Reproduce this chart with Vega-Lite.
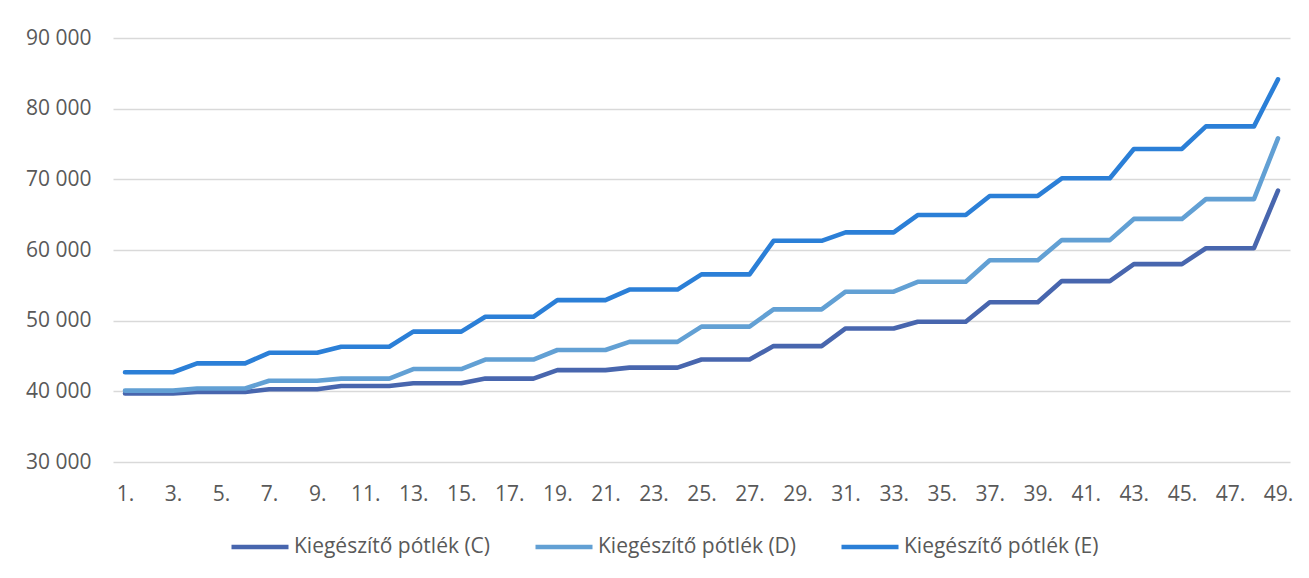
{
  "$schema": "https://vega.github.io/schema/vega-lite/v6.json",
  "width": 1177,
  "height": 424,
  "autosize": "none",
  "padding": {"left": 113, "top": 38, "right": 19, "bottom": 116},
  "background": "white",
  "config": {
    "view": {"stroke": null},
    "font": "Open Sans",
    "axis": {"labelFont": "Open Sans", "labelFontSize": 21, "labelColor": "#595959", "domain": false, "ticks": false},
    "legend": {"labelFont": "Open Sans", "labelFontSize": 21, "labelColor": "#595959", "labelLimit": 0}
  },
  "data": {
    "values": [
      {"i":1,"Kiegészítő pótlék (C)":39700,"Kiegészítő pótlék (D)":40100,"Kiegészítő pótlék (E)":42700},
      {"i":2,"Kiegészítő pótlék (C)":39700,"Kiegészítő pótlék (D)":40100,"Kiegészítő pótlék (E)":42700},
      {"i":3,"Kiegészítő pótlék (C)":39700,"Kiegészítő pótlék (D)":40100,"Kiegészítő pótlék (E)":42700},
      {"i":4,"Kiegészítő pótlék (C)":39900,"Kiegészítő pótlék (D)":40400,"Kiegészítő pótlék (E)":43950},
      {"i":5,"Kiegészítő pótlék (C)":39900,"Kiegészítő pótlék (D)":40400,"Kiegészítő pótlék (E)":43950},
      {"i":6,"Kiegészítő pótlék (C)":39900,"Kiegészítő pótlék (D)":40400,"Kiegészítő pótlék (E)":43950},
      {"i":7,"Kiegészítő pótlék (C)":40300,"Kiegészítő pótlék (D)":41500,"Kiegészítő pótlék (E)":45450},
      {"i":8,"Kiegészítő pótlék (C)":40300,"Kiegészítő pótlék (D)":41500,"Kiegészítő pótlék (E)":45450},
      {"i":9,"Kiegészítő pótlék (C)":40300,"Kiegészítő pótlék (D)":41500,"Kiegészítő pótlék (E)":45450},
      {"i":10,"Kiegészítő pótlék (C)":40750,"Kiegészítő pótlék (D)":41800,"Kiegészítő pótlék (E)":46300},
      {"i":11,"Kiegészítő pótlék (C)":40750,"Kiegészítő pótlék (D)":41800,"Kiegészítő pótlék (E)":46300},
      {"i":12,"Kiegészítő pótlék (C)":40750,"Kiegészítő pótlék (D)":41800,"Kiegészítő pótlék (E)":46300},
      {"i":13,"Kiegészítő pótlék (C)":41150,"Kiegészítő pótlék (D)":43150,"Kiegészítő pótlék (E)":48450},
      {"i":14,"Kiegészítő pótlék (C)":41150,"Kiegészítő pótlék (D)":43150,"Kiegészítő pótlék (E)":48450},
      {"i":15,"Kiegészítő pótlék (C)":41150,"Kiegészítő pótlék (D)":43150,"Kiegészítő pótlék (E)":48450},
      {"i":16,"Kiegészítő pótlék (C)":41800,"Kiegészítő pótlék (D)":44500,"Kiegészítő pótlék (E)":50550},
      {"i":17,"Kiegészítő pótlék (C)":41800,"Kiegészítő pótlék (D)":44500,"Kiegészítő pótlék (E)":50550},
      {"i":18,"Kiegészítő pótlék (C)":41800,"Kiegészítő pótlék (D)":44500,"Kiegészítő pótlék (E)":50550},
      {"i":19,"Kiegészítő pótlék (C)":43000,"Kiegészítő pótlék (D)":45850,"Kiegészítő pótlék (E)":52900},
      {"i":20,"Kiegészítő pótlék (C)":43000,"Kiegészítő pótlék (D)":45850,"Kiegészítő pótlék (E)":52900},
      {"i":21,"Kiegészítő pótlék (C)":43000,"Kiegészítő pótlék (D)":45850,"Kiegészítő pótlék (E)":52900},
      {"i":22,"Kiegészítő pótlék (C)":43350,"Kiegészítő pótlék (D)":47000,"Kiegészítő pótlék (E)":54400},
      {"i":23,"Kiegészítő pótlék (C)":43350,"Kiegészítő pótlék (D)":47000,"Kiegészítő pótlék (E)":54400},
      {"i":24,"Kiegészítő pótlék (C)":43350,"Kiegészítő pótlék (D)":47000,"Kiegészítő pótlék (E)":54400},
      {"i":25,"Kiegészítő pótlék (C)":44500,"Kiegészítő pótlék (D)":49150,"Kiegészítő pótlék (E)":56550},
      {"i":26,"Kiegészítő pótlék (C)":44500,"Kiegészítő pótlék (D)":49150,"Kiegészítő pótlék (E)":56550},
      {"i":27,"Kiegészítő pótlék (C)":44500,"Kiegészítő pótlék (D)":49150,"Kiegészítő pótlék (E)":56550},
      {"i":28,"Kiegészítő pótlék (C)":46400,"Kiegészítő pótlék (D)":51600,"Kiegészítő pótlék (E)":61300},
      {"i":29,"Kiegészítő pótlék (C)":46400,"Kiegészítő pótlék (D)":51600,"Kiegészítő pótlék (E)":61300},
      {"i":30,"Kiegészítő pótlék (C)":46400,"Kiegészítő pótlék (D)":51600,"Kiegészítő pótlék (E)":61300},
      {"i":31,"Kiegészítő pótlék (C)":48900,"Kiegészítő pótlék (D)":54100,"Kiegészítő pótlék (E)":62500},
      {"i":32,"Kiegészítő pótlék (C)":48900,"Kiegészítő pótlék (D)":54100,"Kiegészítő pótlék (E)":62500},
      {"i":33,"Kiegészítő pótlék (C)":48900,"Kiegészítő pótlék (D)":54100,"Kiegészítő pótlék (E)":62500},
      {"i":34,"Kiegészítő pótlék (C)":49850,"Kiegészítő pótlék (D)":55500,"Kiegészítő pótlék (E)":64950},
      {"i":35,"Kiegészítő pótlék (C)":49850,"Kiegészítő pótlék (D)":55500,"Kiegészítő pótlék (E)":64950},
      {"i":36,"Kiegészítő pótlék (C)":49850,"Kiegészítő pótlék (D)":55500,"Kiegészítő pótlék (E)":64950},
      {"i":37,"Kiegészítő pótlék (C)":52600,"Kiegészítő pótlék (D)":58550,"Kiegészítő pótlék (E)":67650},
      {"i":38,"Kiegészítő pótlék (C)":52600,"Kiegészítő pótlék (D)":58550,"Kiegészítő pótlék (E)":67650},
      {"i":39,"Kiegészítő pótlék (C)":52600,"Kiegészítő pótlék (D)":58550,"Kiegészítő pótlék (E)":67650},
      {"i":40,"Kiegészítő pótlék (C)":55600,"Kiegészítő pótlék (D)":61400,"Kiegészítő pótlék (E)":70150},
      {"i":41,"Kiegészítő pótlék (C)":55600,"Kiegészítő pótlék (D)":61400,"Kiegészítő pótlék (E)":70150},
      {"i":42,"Kiegészítő pótlék (C)":55600,"Kiegészítő pótlék (D)":61400,"Kiegészítő pótlék (E)":70150},
      {"i":43,"Kiegészítő pótlék (C)":58000,"Kiegészítő pótlék (D)":64400,"Kiegészítő pótlék (E)":74300},
      {"i":44,"Kiegészítő pótlék (C)":58000,"Kiegészítő pótlék (D)":64400,"Kiegészítő pótlék (E)":74300},
      {"i":45,"Kiegészítő pótlék (C)":58000,"Kiegészítő pótlék (D)":64400,"Kiegészítő pótlék (E)":74300},
      {"i":46,"Kiegészítő pótlék (C)":60250,"Kiegészítő pótlék (D)":67200,"Kiegészítő pótlék (E)":77500},
      {"i":47,"Kiegészítő pótlék (C)":60250,"Kiegészítő pótlék (D)":67200,"Kiegészítő pótlék (E)":77500},
      {"i":48,"Kiegészítő pótlék (C)":60250,"Kiegészítő pótlék (D)":67200,"Kiegészítő pótlék (E)":77500},
      {"i":49,"Kiegészítő pótlék (C)":68400,"Kiegészítő pótlék (D)":75800,"Kiegészítő pótlék (E)":84150}
    ]
  },
  "transform": [
    {"fold": ["Kiegészítő pótlék (C)", "Kiegészítő pótlék (D)", "Kiegészítő pótlék (E)"], "as": ["series", "value"]}
  ],
  "mark": {"type": "line", "strokeWidth": 4.6, "strokeCap": "round", "strokeJoin": "round"},
  "encoding": {
    "x": {
      "field": "i",
      "type": "ordinal",
      "title": null,
      "axis": {
        "labelAngle": 0,
        "labelPadding": 21,
        "values": [1,3,5,7,9,11,13,15,17,19,21,23,25,27,29,31,33,35,37,39,41,43,45,47,49],
        "labelExpr": "datum.value + '.'",
        "grid": false
      }
    },
    "y": {
      "field": "value",
      "type": "quantitative",
      "title": null,
      "scale": {"domain": [30000, 90000], "nice": false, "zero": false},
      "axis": {
        "values": [30000, 40000, 50000, 60000, 70000, 80000, 90000],
        "labelExpr": "replace(format(datum.value, ','), ',', ' ')",
        "labelPadding": 22,
        "grid": true,
        "gridColor": "#d9d9d9",
        "gridWidth": 1.3
      }
    },
    "color": {
      "field": "series",
      "type": "nominal",
      "scale": {
        "domain": ["Kiegészítő pótlék (C)", "Kiegészítő pótlék (D)", "Kiegészítő pótlék (E)"],
        "range": ["#4866ae", "#62a0d4", "#2b7fd7"]
      },
      "legend": {
        "title": null,
        "orient": "none",
        "direction": "horizontal",
        "legendX": 116,
        "legendY": 478,
        "padding": 0,
        "symbolType": "stroke",
        "symbolSize": 3249,
        "symbolStrokeWidth": 4.6,
        "labelOffset": 3,
        "labelLimit": 0,
        "columnPadding": 35
      }
    }
  }
}
